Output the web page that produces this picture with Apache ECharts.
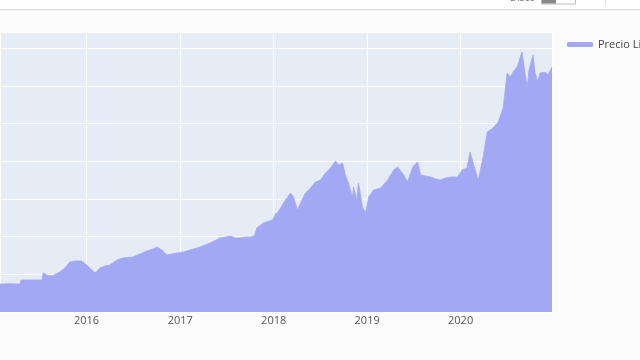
<!DOCTYPE html>
<html>
<head>
<meta charset="utf-8">
<script src="https://cdn.jsdelivr.net/npm/echarts@6/dist/echarts.min.js"></script>
<style>
html,body{margin:0;padding:0;background:#fcfcfc;}
#chart{width:640px;height:360px;}
</style>
</head>
<body>
<div id="chart"></div>
<script>
var seriesName = 'Precio Limpio';
var dates = [
'2015-01-28','2015-03-08','2015-04-16','2015-04-20','2015-05-25','2015-07-11','2015-07-15','2015-07-30','2015-08-19','2015-09-03','2015-09-19','2015-10-08','2015-10-28','2015-11-16','2015-12-13',
'2016-01-02','2016-01-18','2016-02-03','2016-02-22','2016-03-13','2016-04-01','2016-04-29','2016-05-22','2016-06-30','2016-07-27','2016-08-24','2016-09-16','2016-10-02','2016-10-21','2016-11-10','2016-11-29','2016-12-19',
'2017-01-13','2017-02-09','2017-03-20','2017-04-28','2017-06-06','2017-06-26','2017-07-15','2017-08-04','2017-08-23','2017-09-12','2017-10-01','2017-10-17','2017-10-27','2017-11-22','2017-12-28',
'2018-01-08','2018-01-16','2018-02-04','2018-02-16','2018-03-08','2018-03-19','2018-04-04','2018-04-16','2018-05-05','2018-05-25','2018-06-13','2018-07-03','2018-07-22','2018-08-11','2018-08-31','2018-09-11','2018-09-27','2018-10-08','2018-10-20','2018-11-05','2018-11-09','2018-11-21','2018-11-28','2018-12-14','2018-12-26',
'2019-01-07','2019-01-26','2019-02-23','2019-03-22','2019-04-15','2019-04-30','2019-05-24','2019-06-08','2019-06-28','2019-07-17','2019-07-29','2019-08-18','2019-09-06','2019-09-26','2019-10-15','2019-11-03','2019-11-23','2019-12-20',
'2020-01-07','2020-01-26','2020-02-07','2020-02-19','2020-03-10','2020-03-29','2020-04-14','2020-05-07','2020-05-27','2020-06-15','2020-07-01','2020-07-13','2020-07-24','2020-08-09','2020-08-21','2020-08-28','2020-09-05','2020-09-17','2020-09-24','2020-10-10','2020-10-18','2020-10-29','2020-11-06','2020-11-26','2020-12-07','2020-12-23'
];
var prices = [
371,375,371,424,424,424,517,490,477,504,530,583,663,676,676,
623,570,517,583,610,623,690,716,729,769,809,835,862,822,756,769,782,
796,822,862,915,981,995,1008,981,981,995,995,1008,1114,1180,1220,
1300,1313,1419,1485,1578,1525,1353,1445,1578,1644,1724,1750,1843,1909,2002,1949,1976,1817,1711,1525,1658,1485,1711,1392,1313,
1525,1618,1644,1750,1883,1923,1817,1724,1923,1989,1817,1803,1790,1764,1750,1777,1790,1790,
1883,1909,2122,1976,1750,2055,2387,2440,2519,2705,3169,3116,3182,3249,3381,3448,3249,2984,3209,3408,3169,3050,3169,3182,3143,3249
];
var xMin = '2015-01-28';
var xMax = '2020-12-23';
var yTicks = [0, 500, 1000, 1500, 2000, 2500, 3000, 3500];

var chart = echarts.init(document.getElementById('chart'));
var data = dates.map(function (d, i) { return [d, prices[i]]; });
var fillColor = '#a3a8f5';
chart.setOption({
  backgroundColor: '#fcfcfc',
  animation: false,
  grid: {left: -1, right: 88, top: 32, bottom: 48, show: true, backgroundColor: '#e5ecf6', borderWidth: 0},
  legend: {
    left: 562, top: 34, width: 300, icon: 'roundRect', itemWidth: 26, itemHeight: 5, itemGap: 4,
    textStyle: {color: '#444', fontSize: 11, fontFamily: 'Open Sans, Verdana, Arial', overflow: 'none', width: 200},
    data: [seriesName]
  },
  xAxis: {
    type: 'time', min: xMin, max: xMax,
    minInterval: 365 * 86400000, maxInterval: 366 * 86400000,
    axisLine: {show: false}, axisTick: {show: false},
    splitLine: {show: true, lineStyle: {color: '#ffffff', width: 1}},
    axisLabel: {formatter: '{yyyy}', color: '#555', fontSize: 11, margin: 3, fontFamily: 'Open Sans, Verdana, Arial', showMinLabel: false}
  },
  yAxis: {
    type: 'value', min: yTicks[0], max: 3713, interval: yTicks[1] - yTicks[0],
    axisLine: {show: false}, axisTick: {show: false}, axisLabel: {show: false},
    splitLine: {show: true, lineStyle: {color: '#ffffff', width: 1}}
  },
  series: [{
    name: seriesName, type: 'line', data: data, symbol: 'none', z: 3,
    itemStyle: {color: fillColor},
    lineStyle: {color: fillColor, width: 0.8},
    areaStyle: {color: fillColor, opacity: 1}
  }],
  graphic: [
    {type: 'rect', shape: {x: 0, y: 0, width: 640, height: 9}, style: {fill: '#ffffff'}, z: 10},
    {type: 'line', shape: {x1: 0, y1: 9.5, x2: 640, y2: 9.5}, style: {stroke: '#e2e2e2', lineWidth: 1}, z: 10},
    {type: 'line', shape: {x1: 0, y1: 10.5, x2: 640, y2: 10.5}, style: {stroke: '#f0f0f0', lineWidth: 1}, z: 10},
    {type: 'text', left: 510, top: -7, style: {text: 'Disco', fill: '#777', fontSize: 10, fontFamily: 'Open Sans, Arial'}, z: 11},
    {type: 'rect', shape: {x: 541.5, y: -4, width: 34, height: 8}, style: {fill: '#fff', stroke: '#bbb', lineWidth: 1}, z: 11},
    {type: 'rect', shape: {x: 542, y: 0, width: 14, height: 3.5}, style: {fill: '#888'}, z: 12},
    {type: 'line', shape: {x1: 605.5, y1: 0, x2: 605.5, y2: 6}, style: {stroke: '#ddd', lineWidth: 1}, z: 11}
  ]
});
</script>
</body>
</html>
